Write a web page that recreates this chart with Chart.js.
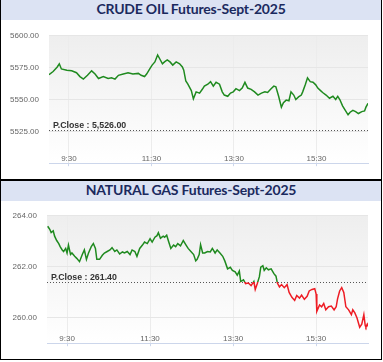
<!DOCTYPE html>
<html lang="en">
  <head>
    <meta charset="UTF-8" />
    <title>MCX Futures</title>
    <script src="https://cdn.jsdelivr.net/npm/chart.js"></script>
    <style>
      body {
        margin: 0;
        background: #ffffff;
        width: 383px;
        height: 362px;
        position: relative;
        overflow: hidden;
      }
      .panel {
        position: absolute;
        left: 0;
        width: 382px;
        height: 180px;
        box-sizing: border-box;
        border: 1px solid #000;
      }
      .head {
        height: 20px;
        line-height: 20px;
        background: #dce3f3;
        color: #1b2a5e;
        font: bold 14px Lato, "Open Sans", sans-serif;
        letter-spacing: -0.2px;
        text-align: center;
      }
      canvas {
        position: absolute;
        left: 1px;
      }
    </style>
  </head>
  <body>
    <div class="panel" style="top: 0; border-top: none; height: 180px">
      <div class="head">CRUDE OIL Futures-Sept-2025</div>
    </div>
    <div class="panel" style="top: 180px">
      <div class="head">NATURAL GAS Futures-Sept-2025</div>
    </div>
    <canvas id="crudeChart" width="379" height="157" style="top: 21px"></canvas>
    <canvas id="gasChart" width="379" height="157" style="top: 201px"></canvas>

    <script>
      // time axis
      const xMin = "9:01";
      const xMax = "16:45";
      const xTickLabels = ["9:30", "11:30", "13:30", "15:30"];

      // crude oil
      const crudeClose = 5526;
      const crudeYTicks = [5525, 5550, 5575, 5600];
      const crudeTimes = [
        "9:01","9:07","9:13","9:16","9:19","9:27","9:34","9:41","9:46","9:51",
        "9:57","10:03","10:08","10:13","10:20","10:27","10:32","10:37","10:42","10:49",
        "10:56","11:03","11:11","11:15","11:20","11:23","11:28","11:31","11:35","11:39",
        "11:42","11:46","11:49","11:53","11:57","12:01","12:06","12:11","12:15","12:17",
        "12:20","12:23","12:28","12:31","12:35","12:40","12:44","12:47","12:52","12:56",
        "13:00","13:04","13:09","13:13","13:16","13:21","13:25","13:29","13:33","13:38",
        "13:42","13:46","13:50","13:55","14:00","14:05","14:10","14:15","14:19","14:24",
        "14:28","14:31","14:35","14:39","14:42","14:46","14:50","14:53","14:57","15:00",
        "15:04","15:08","15:10","15:14","15:17","15:21","15:25","15:29","15:32","15:36",
        "15:39","15:44","15:49","15:54","15:58","16:01","16:04","16:08","16:12","16:16",
        "16:19","16:23","16:27","16:31","16:36","16:40","16:42","16:45"
      ];
      const crudeValues = [
        5569.5,5572,5575.5,5578,5574,5573,5572.5,5571,5568,5566,
        5569,5572.5,5570,5566.5,5568,5566.5,5567,5566,5569,5570,
        5571,5570,5570.5,5569,5568,5570,5574.5,5577,5579.5,5585,
        5582,5578,5579.5,5581,5579.5,5577,5579.5,5578,5575.5,5573,
        5564.5,5562,5557,5550.5,5556,5555,5558,5560.5,5562,5564,
        5560.5,5563.5,5562,5556,5553.5,5552.5,5555,5556,5558.5,5557,
        5559,5563.5,5559,5558,5556,5553.5,5555,5556,5555.5,5558.5,
        5560.5,5560,5552.5,5544,5547.5,5549.5,5549,5556,5553.5,5550,
        5552,5553.5,5556,5562,5567,5564,5563.5,5561.5,5559,5557,
        5555.5,5553.5,5551,5552.5,5550,5552.5,5550,5545,5541.5,5538,
        5540,5541.5,5540.5,5539,5540.5,5541,5544,5547
      ];

      // natural gas
      const gasClose = 261.4;
      const gasYTicks = [260, 262, 264];
      const gasTimes = [
        "9:02","9:05","9:07","9:10","9:12","9:15","9:18","9:20","9:23","9:25",
        "9:28","9:30","9:32","9:35","9:37","9:41","9:44","9:48","9:52","9:55",
        "9:58","10:01","10:05","10:08","10:11","10:13","10:17","10:21","10:24","10:28",
        "10:32","10:35","10:39","10:42","10:46","10:50","10:53","10:57","11:01","11:04",
        "11:08","11:11","11:15","11:19","11:22","11:26","11:30","11:33","11:37","11:40",
        "11:42","11:45","11:49","11:51","11:54","11:57","12:00","12:04","12:07","12:10",
        "12:14","12:18","12:22","12:25","12:29","12:33","12:36","12:38","12:41","12:43",
        "12:46","12:49","12:53","12:57","13:00","13:04","13:07","13:11","13:15","13:18",
        "13:22","13:26","13:29","13:33","13:36","13:39","13:41","13:45","13:48","13:52",
        "13:56","14:00","14:02","14:05","14:08","14:10","14:13","14:15","14:18","14:21",
        "14:25","14:29","14:32","14:34","14:37","14:40","14:44","14:48","14:51","14:55",
        "14:59","15:02","15:06","15:09","15:13","15:17","15:20","15:24","15:28","15:30",
        "15:31","15:35","15:38","15:41","15:44","15:48","15:52","15:56","15:59","16:01",
        "16:04","16:07","16:10","16:13","16:17","16:21","16:23","16:26","16:29","16:33",
        "16:36","16:39","16:41","16:42","16:44","16:46"
      ];
      const gasValues = [
        263.59,263.47,263.34,263.41,263.2,263.03,262.91,262.79,262.66,262.6,
        262.72,262.54,262.85,262.48,262.54,262.41,262.33,262.2,262.48,262.66,
        262.29,262.54,262.79,262.91,262.72,262.29,262.29,262.45,262.54,262.6,
        262.66,262.75,262.6,262.66,262.5,262.58,262.54,262.6,262.48,262.66,
        262.6,262.41,262.72,262.85,262.97,262.91,263.1,262.97,263.16,263.22,
        263.34,263.12,263.2,263.16,263.24,262.97,262.72,262.85,262.79,262.91,
        262.82,263.03,262.85,262.72,262.6,262.48,262.23,262.29,262.48,262.87,
        262.54,262.54,262.6,262.58,262.72,262.54,262.66,262.54,262.41,262.23,
        261.92,261.98,261.86,261.8,261.67,261.83,261.42,261.49,261.34,261.36,
        261.26,261.42,261.11,261.34,261.61,261.98,262.04,261.86,261.96,261.88,
        261.92,261.73,261.63,261.36,261.21,261.3,261.18,261.3,260.99,260.8,
        260.68,260.87,260.77,260.89,260.72,260.84,261.05,261.11,261.14,260.93,
        260.25,260.5,260.43,260.56,260.31,260.43,260.46,260.31,260.43,260.74,
        261.05,261.18,260.99,260.43,260.31,260.12,260.31,260.19,260.0,259.63,
        259.75,260.12,259.69,259.63,259.75,259.63
      ];

      const green = "#1f8a1f";
      const red = "#ee1c24";

      function toMin(t) {
        const p = t.split(":");
        return +p[0] * 60 + +p[1];
      }

      // grey plot background, fading down
      const plotBg = {
        id: "plotBg",
        beforeDraw(chart) {
          const { ctx, chartArea: a } = chart;
          const g = ctx.createLinearGradient(0, a.top, 0, a.bottom);
          g.addColorStop(0, "#eeeeee");
          g.addColorStop(1, "#ffffff");
          ctx.save();
          ctx.fillStyle = g;
          ctx.fillRect(a.left, a.top, a.right - a.left, a.bottom - a.top);
          ctx.restore();
        },
      };

      // dotted previous close line with its label
      const closeLine = {
        id: "closeLine",
        beforeDatasetsDraw(chart, args, opts) {
          const { ctx, chartArea: a, scales } = chart;
          const y = Math.round(scales.y.getPixelForValue(opts.value)) + 0.5;
          ctx.save();
          ctx.strokeStyle = "#555";
          ctx.lineWidth = 1;
          ctx.setLineDash([1, 2]);
          ctx.beginPath();
          ctx.moveTo(a.left, y);
          ctx.lineTo(a.right, y);
          ctx.stroke();
          ctx.setLineDash([]);
          ctx.fillStyle = "#333";
          ctx.font = "bold 8.8px 'Liberation Sans', Arial, sans-serif";
          ctx.textBaseline = "alphabetic";
          const txt =
            "P.Close : " +
            opts.value.toLocaleString("en-US", {
              minimumFractionDigits: 2,
              maximumFractionDigits: 2,
            });
          ctx.fillText(txt, a.left + 4, y - 2.5);
          ctx.restore();
        },
      };

      function makeChart(id, times, values, close, yMin, yMax, yTicks, lay) {
        const ctx = document.getElementById(id).getContext("2d");
        return new Chart(ctx, {
          type: "line",
          data: {
            datasets: [
              {
                data: times.map((t, i) => ({ x: toMin(t), y: values[i] })),
                borderWidth: 1.5,
                pointRadius: 0,
                tension: 0,
                borderColor: (c) => {
                  const chart = c.chart;
                  const a = chart.chartArea;
                  if (!a) return green;
                  const yc = chart.scales.y.getPixelForValue(close);
                  let r = (yc - a.top) / (a.bottom - a.top);
                  r = Math.min(1, Math.max(0, r));
                  const g = chart.ctx.createLinearGradient(0, a.top, 0, a.bottom);
                  g.addColorStop(0, green);
                  g.addColorStop(r, green);
                  g.addColorStop(r, red);
                  g.addColorStop(1, red);
                  return g;
                },
              },
            ],
          },
          options: {
            responsive: false,
            animation: false,
            layout: { padding: { left: 0, right: 12, top: lay.top, bottom: 0 } },
            plugins: {
              legend: { display: false },
              tooltip: { enabled: false },
              closeLine: { value: close },
            },
            scales: {
              x: {
                type: "linear",
                min: toMin(xMin),
                max: toMin(xMax),
                afterBuildTicks: (s) => {
                  s.ticks = xTickLabels.map((t) => ({ value: toMin(t) }));
                },
                afterFit: (s) => {
                  s.height = lay.xh;
                },
                ticks: {
                  color: "#666",
                  font: { size: 8, family: "'Liberation Sans', Arial" },
                  mirror: true, // labels sit just above the axis line
                  padding: 0,
                  maxRotation: 0,
                  autoSkip: false,
                  callback: (v) => xTickLabels.find((t) => toMin(t) === v),
                },
                grid: { color: "#ececec", tickLength: 3, tickColor: "#ccd6eb" },
                border: { display: true, color: "#ccd6eb" },
              },
              y: {
                min: yMin,
                max: yMax,
                afterBuildTicks: (s) => {
                  s.ticks = yTicks.map((v) => ({ value: v }));
                },
                afterFit: (s) => {
                  s.width = lay.yw;
                },
                ticks: {
                  color: "#666",
                  font: { size: 8, family: "'Liberation Sans', Arial" },
                  padding: 10,
                  callback: (v) => v.toFixed(2),
                },
                grid: { color: "#e6e6e6", drawTicks: false },
                border: { display: false },
              },
            },
          },
          plugins: [plotBg, closeLine],
        });
      }

      makeChart("crudeChart", crudeTimes, crudeValues, crudeClose, 5500, 5600, crudeYTicks, {
        top: 12.7,
        xh: 9,
        yw: 48,
      });
      makeChart("gasChart", gasTimes, gasValues, gasClose, 259, 264, gasYTicks, {
        top: 11.3,
        xh: 10,
        yw: 46,
      });
    </script>
  </body>
</html>
